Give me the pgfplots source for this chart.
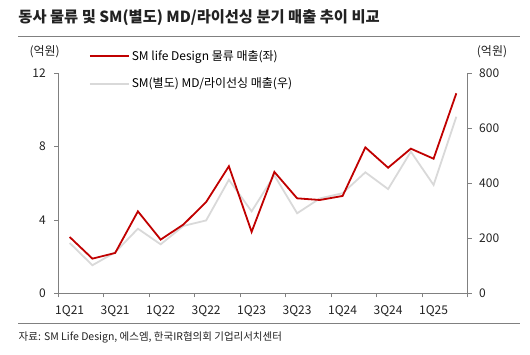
\documentclass[border=0pt]{standalone}
\usepackage{fontspec}
\setmainfont{Noto Sans CJK KR}
\usepackage{pgfplots}
\pgfplotsset{compat=1.18}
\definecolor{lred}{HTML}{C00000}
\definecolor{lgray}{HTML}{D9D9D9}
\definecolor{axgray}{HTML}{808080}
\definecolor{txt}{HTML}{222222}
\pgfplotstableread{
q red gray
0 3.07 183
1 1.89 102
2 2.20 149
3 4.47 235
4 2.93 178
5 3.75 245
6 4.98 265
7 6.93 413
8 3.35 298
9 6.62 429
10 5.18 291
11 5.09 345
12 5.31 364
13 7.96 440
14 6.85 379
15 7.89 515
16 7.34 394
17 10.91 642
}\data
\begin{document}
\begin{tikzpicture}
\path[use as bounding box] (0,0) rectangle (530bp,355bp);
\pgfplotsset{common/.style={
  at={(58.3bp,61.7bp)}, anchor=south west, width=409.4bp, height=220bp, scale only axis,
  xmin=-0.5, xmax=17.5,
  axis line style={axgray, line width=0.8bp, -},
  tick style={axgray, line width=0.8bp},
  major tick length=4bp, tick align=outside,
  ticklabel style={font=\fontsize{12bp}{14bp}\selectfont, text=txt},
  /pgf/number format/assume math mode=true,
}}
% right axis (gray) drawn first so red is on top
\begin{axis}[common,
  ymin=0, ymax=800,
  axis y line*=right, axis x line=none,
  ytick={0,200,400,600,800},
  yticklabel style={xshift=4bp},
]
\addplot[lgray, line width=1.8bp, no markers] table[x=q, y=gray] {\data};
\end{axis}
\begin{axis}[common,
  ymin=0, ymax=12,
  axis y line*=left, axis x line*=bottom,
  ytick={0,4,8,12},
  yticklabel style={xshift=-5bp},
  xtick={-0.5,1.5,...,17.5}, xticklabels={},
  extra x ticks={0,2,...,16},
  extra x tick labels={1Q21,3Q21,1Q22,3Q22,1Q23,3Q23,1Q24,3Q24,1Q25},
  extra x tick style={major tick length=0pt, xticklabel style={yshift=-9bp}},
  legend style={at={(0.0745,1.114)}, anchor=north west, draw=none, fill=none,
    inner sep=0pt, row sep=12bp, font=\fontsize{12bp}{14bp}\selectfont},
  legend cell align=left,
  legend image code/.code={\draw[#1] (0bp,0bp) -- (39bp,0bp);},
]
\addplot[lred, line width=1.8bp, no markers] table[x=q, y=red] {\data};
\addlegendentry{SM life Design 물류 매출(좌)}
\addlegendimage{lgray, line width=1.8bp}
\addlegendentry{SM(별도) MD/라이선싱 매출(우)}
\end{axis}
\node[anchor=west, font=\bfseries\fontsize{15.3bp}{18bp}\selectfont, text=txt, inner sep=0pt] at (18.3bp,337bp) {동사 물류 및 SM(별도) MD/라이선싱 분기 매출 추이 비교};
\draw[axgray, line width=0.8bp] (18.3bp,318.3bp) -- (520bp,318.3bp);
\draw[axgray, line width=0.8bp] (18.3bp,31.2bp) -- (520bp,31.2bp);
\node[anchor=west, font=\fontsize{10.5bp}{12bp}\selectfont, text=txt, inner sep=0pt] at (18.5bp,18bp) {자료: SM Life Design, 에스엠, 한국IR협의회 기업리서치센터};
\node[font=\fontsize{12bp}{14bp}\selectfont, text=txt, inner sep=0pt] at (44.6bp,303bp) {(억원)};
\node[font=\fontsize{12bp}{14bp}\selectfont, text=txt, inner sep=0pt] at (492bp,303bp) {(억원)};
\end{tikzpicture}
\end{document}
